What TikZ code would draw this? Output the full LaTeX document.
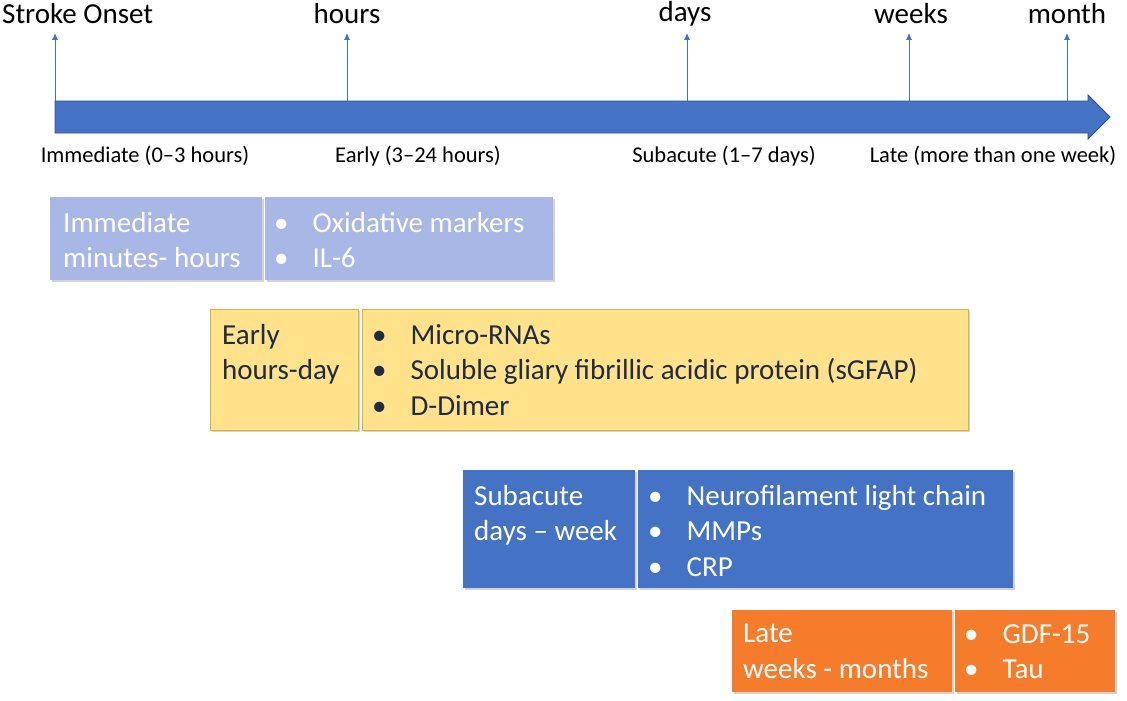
\documentclass[tikz,border=0pt]{standalone}
\usepackage{fontspec}
\setmainfont{Carlito}
\usetikzlibrary{shadows,arrows.meta}
\definecolor{bA}{HTML}{A9B7E6}
\definecolor{yA}{HTML}{FFE28A}
\definecolor{yB}{HTML}{D9B24A}
\definecolor{bB}{HTML}{4472C4}
\definecolor{oA}{HTML}{F57C2B}
\definecolor{nv}{HTML}{1F2A44}
\begin{document}
\begin{tikzpicture}[x=1pt,y=-1pt,
  top/.style={font=\fontsize{29}{32}\selectfont,anchor=center,inner sep=0pt},
  phase/.style={font=\fontsize{22.5}{25}\selectfont,anchor=center,inner sep=0pt},
  tick/.style={draw=bB,line width=0.8pt,-{Latex[length=7pt,width=6pt]}},
  bx/.style={drop shadow={opacity=0.35,shadow xshift=2pt,shadow yshift=-2pt}},
  txt/.style={anchor=north west,align=left,font=\fontsize{29}{35.5}\selectfont,inner sep=0pt}]
\useasboundingbox (0,0) rectangle (1127,701);
% main arrow
\fill[bB,draw=bB!70!black,line width=0.8pt] (55,101) -- (1088,101) -- (1088,95) -- (1110,117) -- (1088,139) -- (1088,133) -- (55,133) -- cycle;
\foreach \n/\x in {s/55,h/347,d/687,w/909,m/1067}{
  \coordinate (b\n) at (\x,101);
  \coordinate (e\n) at (\x,33);
  \draw[tick] (b\n) -- (e\n);
}
\node[top,anchor=west] (ts) at (2,14) {Stroke Onset};
\node[top] (th) at (347,14) {hours};
\node[top] (td) at (685,14) {days};
\node[top] (tw) at (911,14) {weeks};
\node[top] (tm) at (1067,14) {month};
\node[phase] (p1) at (145,156) {Immediate (0–3 hours)};
\node[phase] (p2) at (418,156) {Early (3–24 hours)};
\node[phase] (p3) at (724,156) {Subacute (1–7 days)};
\node[phase] (p4) at (993,156) {Late (more than one week)};
% box 1
\fill[bA,bx] (50,197) rectangle (262,280);
\fill[bA,bx] (265,197) rectangle (553,280);
\node[txt,white] (l1) at (63,212) {Immediate\\minutes- hours};
\node[txt,white] (r1) at (274,212) {•\hspace{24pt}Oxidative markers\\•\hspace{24pt}IL-6};
% box 2
\filldraw[yA,draw=yB,bx] (210,309) rectangle (358,430);
\filldraw[yA,draw=yB,bx] (362,309) rectangle (968,430);
\node[txt,nv] (l2) at (222,324) {Early\\hours-day};
\node[txt,nv] (r2) at (372,324) {•\hspace{24pt}Micro-RNAs\\•\hspace{24pt}Soluble gliary fibrillic acidic protein (sGFAP)\\•\hspace{24pt}D-Dimer};
% box 3
\fill[bB,bx] (463,470) rectangle (635,588);
\fill[bB,bx] (638,470) rectangle (1013,588);
\node[txt,white] (l3) at (474,485) {Subacute\\days – week};
\node[txt,white] (r3) at (648,485) {•\hspace{24pt}Neurofilament light chain\\•\hspace{24pt}MMPs\\•\hspace{24pt}CRP};
% box 4
\fill[oA,bx] (732,610) rectangle (952,692);
\fill[oA,bx] (955,610) rectangle (1115,692);
\node[txt,white] (l4) at (743,624) {Late\\weeks - months};
\node[txt,white] (r4) at (964,624) {•\hspace{24pt}GDF-15\\•\hspace{24pt}Tau};
\end{tikzpicture}
\end{document}
